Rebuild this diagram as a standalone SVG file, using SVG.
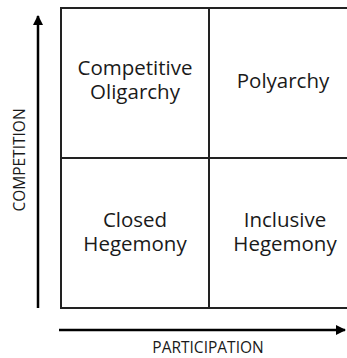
<svg xmlns="http://www.w3.org/2000/svg" width="347" height="358" viewBox="0 0 347 358">
<style>
.q{font-family:"Open Sans","Liberation Sans",sans-serif;font-size:20.5px;fill:#1a1a1a;text-anchor:middle}
.ax{font-family:"Open Sans","Liberation Sans",sans-serif;font-size:15.5px;fill:#1a1a1a;text-anchor:middle}
.grid{stroke:#222;stroke-width:2;fill:none}
.arr{stroke:#000;stroke-width:2.5;fill:none}
</style>
<defs>
<marker id="ah" viewBox="0 0 10 10" refX="9" refY="5" markerWidth="4" markerHeight="4" markerUnits="strokeWidth" orient="auto">
<path d="M0,0 L10,5 L0,10 Z" fill="#000"/>
</marker>
</defs>
<rect width="347" height="358" fill="#fff"/>
<g id="grid">
<path class="grid" d="M347,8 H61 V308 H347 M61,158 H347 M209,8 V308"/>
</g>
<g id="q-competitive-oligarchy"><text class="q" x="135" y="74.5">Competitive</text><text class="q" x="135" y="99">Oligarchy</text></g>
<g id="q-polyarchy"><text class="q" x="283" y="88">Polyarchy</text></g>
<g id="q-closed-hegemony"><text class="q" x="135" y="227">Closed</text><text class="q" x="135" y="251">Hegemony</text></g>
<g id="q-inclusive-hegemony"><text class="q" x="285" y="227">Inclusive</text><text class="q" x="285" y="251">Hegemony</text></g>
<g id="connectors">
<line class="arr" x1="38" y1="308" x2="38" y2="16" marker-end="url(#ah)"/>
<line class="arr" x1="59" y1="330" x2="345" y2="330" marker-end="url(#ah)"/>
</g>
<g id="labels">
<text class="ax" transform="translate(25,160) rotate(-90)">COMPETITION</text>
<text class="ax" x="208" y="353">PARTICIPATION</text>
</g>
</svg>
